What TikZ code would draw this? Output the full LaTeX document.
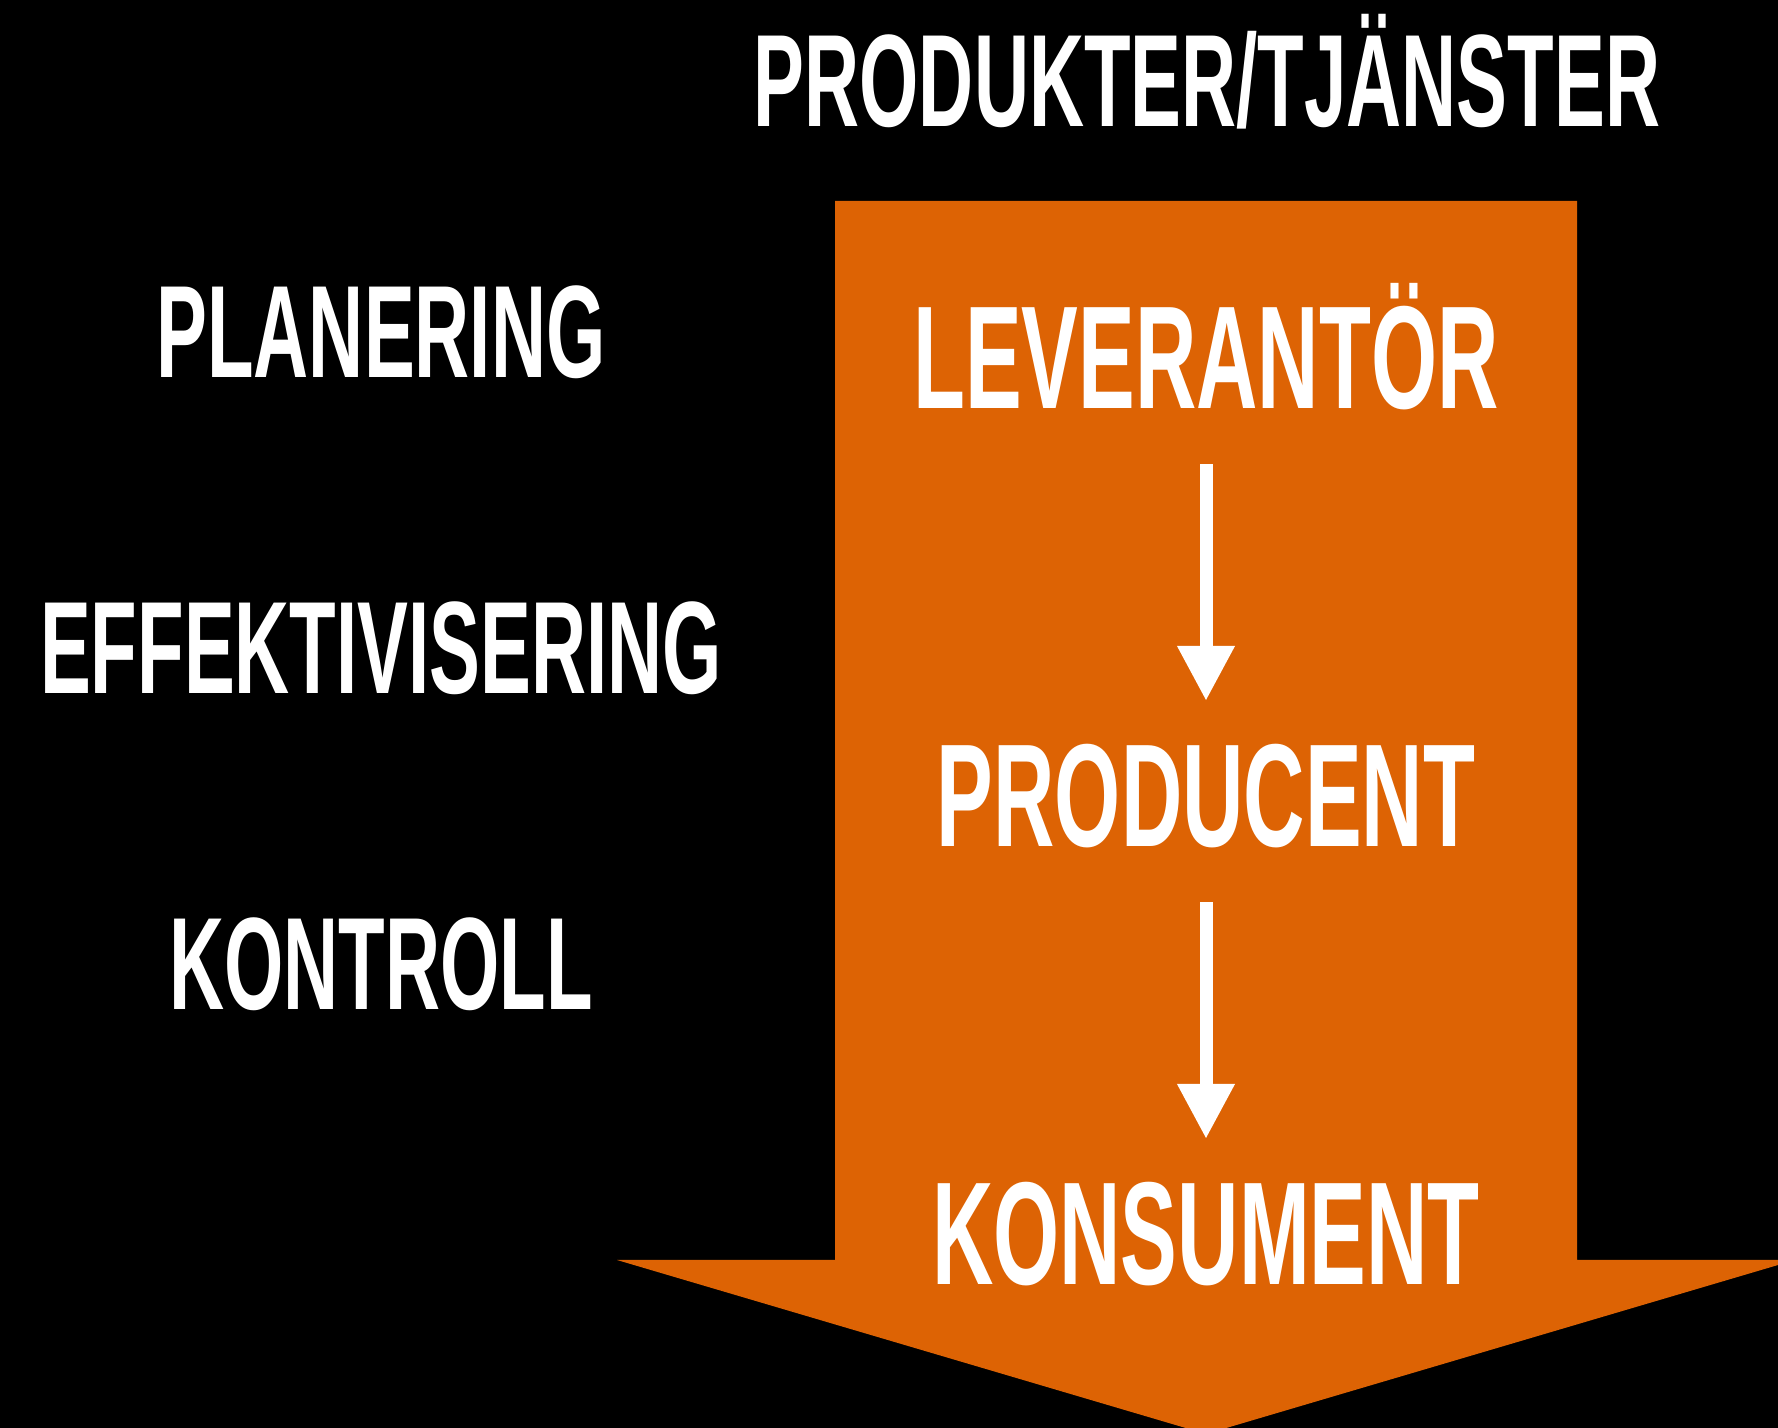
\documentclass[tikz,border=0pt]{standalone}
\usepackage{fontspec}
\newfontfamily\dinfont[FakeStretch=0.58]{Liberation Sans}
\usetikzlibrary{arrows.meta,positioning}
\definecolor{flow}{RGB}{221,99,4}

\begin{document}
\begin{tikzpicture}[x=0.1mm, y=-0.1mm, node distance=33.3mm,
    >={Triangle[width=5.4mm,length=5.5mm]},
    every node/.append style={inner sep=0, outer sep=0, text=white},
    small/.style={font=\dinfont\bfseries\fontsize{37.4pt}{40pt}\selectfont,
        text height=9.4mm, text depth=0pt},
    big/.style={font=\dinfont\bfseries\fontsize{41.7pt}{44pt}\selectfont,
        text height=10.5mm, text depth=0pt},
    flowarrow/.style={->, white, line width=1.3mm, shorten <=5.5mm, shorten >=4.1mm}]

    \useasboundingbox (0,0) rectangle (1778,1428);
    \fill[black] (0,0) rectangle (1778,1428);
    \clip (0,0) rectangle (1778,1428);

    % the big orange arrow
    \fill[flow] (835,201) -- (1577,201) -- (1577,1260) -- (1795,1260)
        -- (1206,1434) -- (617,1260) -- (835,1260) -- cycle;

    \node [small, anchor=base] (goods) at (1207,127) {PRODUKTER/TJÄNSTER};
    \node [big, anchor=base] (lev) at (1206,409) {LEVERANTÖR};
    \node [big, below=of lev] (prod) {PRODUCENT};
    \node [big, below=of prod] (kons) {KONSUMENT};

    \node [small, anchor=base] (plan) at (381,378) {PLANERING};
    \node [small, below=22.2mm of plan] (eff) {EFFEKTIVISERING};
    \node [small, below=22.2mm of eff] (kon) {KONTROLL};

    \draw[flowarrow] (lev) -- (prod);
    \draw[flowarrow] (prod) -- (kons);
\end{tikzpicture}
\end{document}
